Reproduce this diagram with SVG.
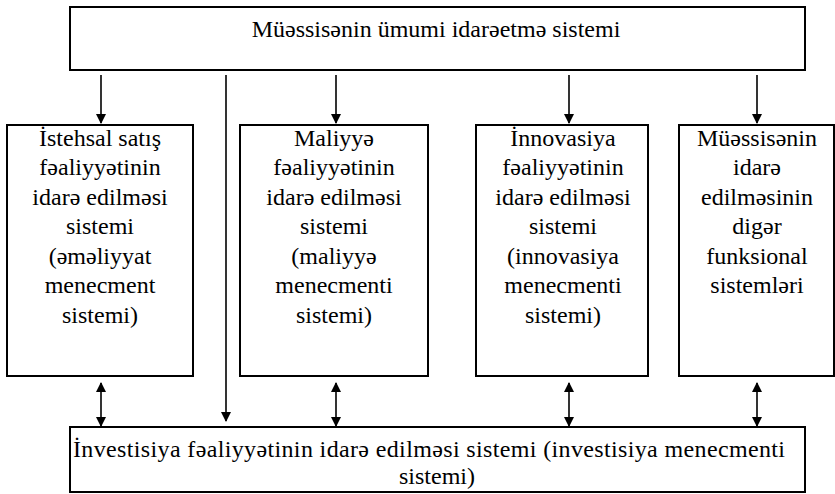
<svg xmlns="http://www.w3.org/2000/svg" width="835" height="494" viewBox="0 0 835 494">
<style>
.box{fill:#fff;stroke:#000;stroke-width:2}
.t{font-family:"Liberation Serif","Times New Roman",serif;font-size:24px;fill:#000;text-anchor:middle}
.c{stroke:#000;stroke-width:1.6;fill:none}
</style>
<defs>
<marker id="ah" markerUnits="userSpaceOnUse" markerWidth="10" markerHeight="12" refX="9" refY="5" orient="auto-start-reverse" viewBox="0 0 10 10">
<path d="M0,0 L10,5 L0,10 Z" fill="#000"/>
</marker>
</defs>
<rect width="835" height="494" fill="#fff"/>
<g id="top">
<rect class="box" x="70" y="7" width="735" height="63"/>
<text class="t" x="436" y="37">Müəssisənin ümumi idarəetmə sistemi</text>
</g>
<g id="n1">
<rect class="box" x="7" y="125" width="186" height="251"/>
<text class="t" x="100" y="146">İstehsal satış</text>
<text class="t" x="100" y="175">fəaliyyətinin</text>
<text class="t" x="100" y="205">idarə edilməsi</text>
<text class="t" x="100" y="234">sistemi</text>
<text class="t" x="100" y="264">(əməliyyat</text>
<text class="t" x="100" y="293">menecment</text>
<text class="t" x="100" y="323">sistemi)</text>
</g>
<g id="n2">
<rect class="box" x="240" y="125" width="188" height="251"/>
<text class="t" x="334" y="146">Maliyyə</text>
<text class="t" x="334" y="175">fəaliyyətinin</text>
<text class="t" x="334" y="205">idarə edilməsi</text>
<text class="t" x="334" y="234">sistemi</text>
<text class="t" x="334" y="264">(maliyyə</text>
<text class="t" x="334" y="293">menecmenti</text>
<text class="t" x="334" y="323">sistemi)</text>
</g>
<g id="n3">
<rect class="box" x="476" y="125" width="172" height="251"/>
<text class="t" x="563" y="146">İnnovasiya</text>
<text class="t" x="563" y="175">fəaliyyətinin</text>
<text class="t" x="563" y="205">idarə edilməsi</text>
<text class="t" x="563" y="234">sistemi</text>
<text class="t" x="563" y="264">(innovasiya</text>
<text class="t" x="563" y="293">menecmenti</text>
<text class="t" x="563" y="323">sistemi)</text>
</g>
<g id="n4">
<rect class="box" x="679" y="125" width="155" height="251"/>
<text class="t" x="757" y="146">Müəssisənin</text>
<text class="t" x="757" y="175">idarə</text>
<text class="t" x="757" y="205">edilməsinin</text>
<text class="t" x="757" y="234">digər</text>
<text class="t" x="757" y="264">funksional</text>
<text class="t" x="757" y="293">sistemləri</text>
</g>
<g id="bottom">
<rect class="box" x="70" y="427" width="735" height="65"/>
<text class="t" x="73" y="457" style="text-anchor:start" textLength="712" lengthAdjust="spacing">İnvestisiya fəaliyyətinin idarə edilməsi sistemi (investisiya menecmenti</text>
<text class="t" x="437" y="484">sistemi)</text>
</g>
<g id="connectors">
<line class="c" x1="101" y1="75" x2="101" y2="123" marker-end="url(#ah)"/>
<line class="c" x1="336" y1="75" x2="336" y2="123" marker-end="url(#ah)"/>
<line class="c" x1="569" y1="75" x2="569" y2="123" marker-end="url(#ah)"/>
<line class="c" x1="757" y1="75" x2="757" y2="123" marker-end="url(#ah)"/>
<line class="c" x1="226" y1="75" x2="226" y2="421" marker-end="url(#ah)"/>
<line class="c" x1="101" y1="383" x2="101" y2="426" marker-start="url(#ah)" marker-end="url(#ah)"/>
<line class="c" x1="336" y1="383" x2="336" y2="426" marker-start="url(#ah)" marker-end="url(#ah)"/>
<line class="c" x1="569" y1="383" x2="569" y2="426" marker-start="url(#ah)" marker-end="url(#ah)"/>
<line class="c" x1="757" y1="383" x2="757" y2="426" marker-start="url(#ah)" marker-end="url(#ah)"/>
</g>
</svg>
